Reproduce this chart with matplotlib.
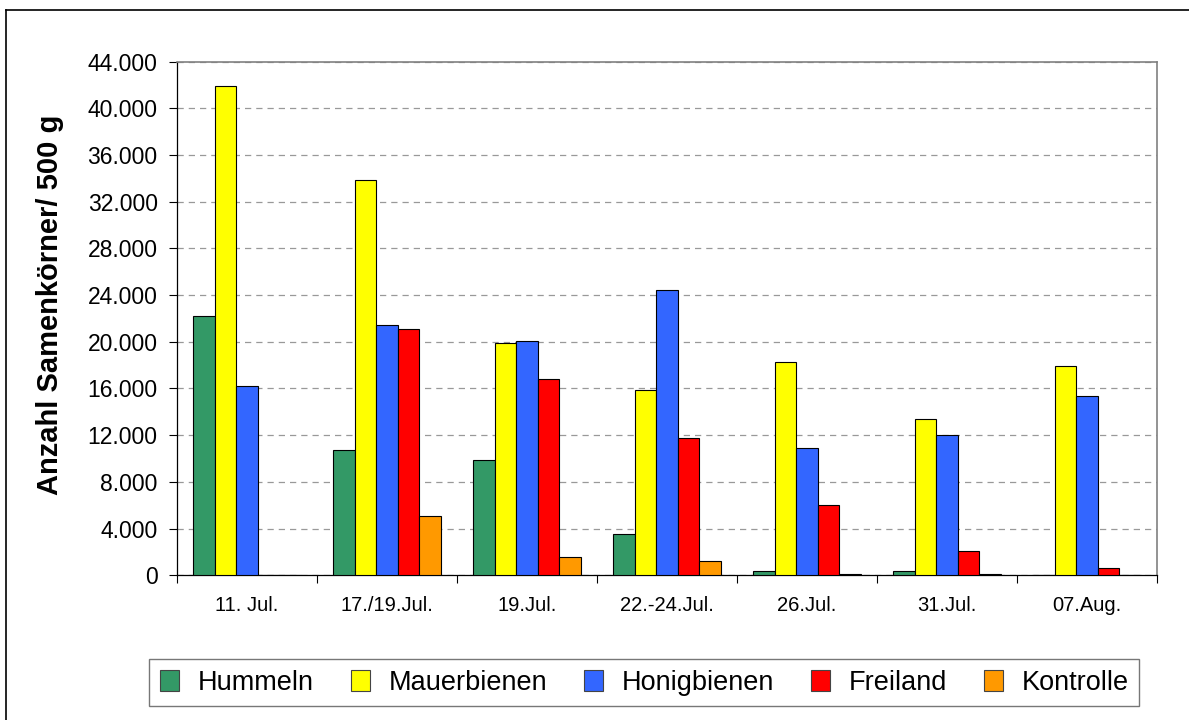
import numpy as np
import matplotlib
matplotlib.use("Agg")
import matplotlib.pyplot as plt
from matplotlib.ticker import FuncFormatter, MultipleLocator, FixedLocator
from matplotlib.lines import Line2D
from matplotlib.patches import Patch

plt.rcParams['font.family'] = ['Liberation Sans', 'DejaVu Sans']

# Data
dates = ["11. Jul.", "17./19.Jul.", "19.Jul.", "22.-24.Jul.", "26.Jul.", "31.Jul.", "07.Aug."]
series = ["Hummeln", "Mauerbienen", "Honigbienen", "Freiland", "Kontrolle"]
hummeln = [22200, 10700, 9900, 3550, 340, 340, 0]
mauerbienen = [41900, 33900, 19900, 15900, 18300, 13400, 17900]
honigbienen = [16200, 21400, 20100, 24400, 10900, 12000, 15400]
freiland = [0, 21100, 16800, 11800, 6000, 2080, 630]
kontrolle = [0, 5050, 1570, 1260, 140, 140, 0]
values = [hummeln, mauerbienen, honigbienen, freiland, kontrolle]
colors = ["#339966", "#FFFF00", "#3366FF", "#FF0000", "#FF9900"]

fig = plt.figure(figsize=(11.89, 7.2), dpi=100)
ax = fig.add_axes([0.1489, 0.2010, 0.8242, 0.7134])

x = np.arange(len(dates))
w = 1 / 6.5
for j, (vals, col) in enumerate(zip(values, colors)):
    ax.bar(x + (j - 2) * w, vals, width=w, color=col,
           edgecolor="black", linewidth=0.8, zorder=3)

ax.set_xlim(-0.5, len(dates) - 0.5)
ax.set_ylim(0, 44000)

# y axis
ax.yaxis.set_major_locator(MultipleLocator(4000))
ax.yaxis.set_major_formatter(FuncFormatter(lambda v, p: f"{v:,.0f}".replace(",", ".")))
ax.tick_params(axis="y", direction="out", length=6, width=0.8, pad=8, labelsize=16.5)
ax.grid(axis="y", color="#999999", linestyle=(0, (5, 4)), linewidth=0.9, zorder=0)
ax.set_ylabel("Anzahl Samenkörner/ 500 g", fontsize=21, fontweight="bold")
ax.yaxis.set_label_coords(-0.115, 0.527)

# x axis: labels centred, tick marks between categories
ax.xaxis.set_major_locator(FixedLocator(x))
ax.set_xticklabels(dates)
ax.xaxis.set_minor_locator(FixedLocator(np.arange(-0.5, len(dates), 1.0)))
ax.tick_params(axis="x", which="major", length=0, pad=15, labelsize=14.5)
ax.tick_params(axis="x", which="minor", direction="out", length=6, width=0.8)

for s in ["top", "right"]:
    ax.spines[s].set_color("#808080")
    ax.spines[s].set_linewidth(1.2)
for s in ["left", "bottom"]:
    ax.spines[s].set_color("black")
    ax.spines[s].set_linewidth(0.9)

# Legend
handles = [Patch(facecolor=c, edgecolor="#444444", linewidth=0.8) for c in colors]
leg = fig.legend(handles, series, loc="center", bbox_to_anchor=(0.5420, 0.052),
                 ncol=5, fontsize=19.5, frameon=True, fancybox=False,
                 handlelength=0.7, handleheight=0.8, handletextpad=0.7,
                 columnspacing=1.35, borderpad=0.4)
leg.get_frame().set_edgecolor("#555555")
leg.get_frame().set_linewidth(1.0)

# Outer chart border
fig.add_artist(Line2D([6 / 1189, 1.0], [1 - 10 / 720, 1 - 10 / 720], color="black", linewidth=1.2))
fig.add_artist(Line2D([6 / 1189, 6 / 1189], [0.0, 1 - 10 / 720], color="black", linewidth=1.2))

fig.savefig("out.png", dpi=100)
